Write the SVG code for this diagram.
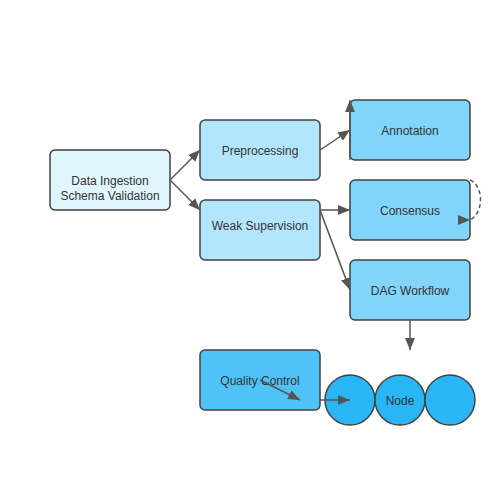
<svg xmlns="http://www.w3.org/2000/svg" width="500" height="500" viewBox="0 0 500 500">
<style>
.box{stroke:#424242;stroke-width:1.5}
.lbl{font-family:"Liberation Sans",Arial,sans-serif;font-size:12px;fill:#333;text-anchor:middle}
.e{fill:none;stroke:#555;stroke-width:1.5}
.d{stroke-dasharray:4,3}
</style>
<defs>
<marker id="ah" viewBox="0 0 12 10" markerWidth="12" markerHeight="10" refX="12" refY="5" orient="auto" markerUnits="userSpaceOnUse"><path d="M0,0 L12,5 L0,10 z" fill="#555"/></marker>
<marker id="ah0" viewBox="0 0 12 10" markerWidth="12" markerHeight="10" refX="12" refY="5" orient="0" markerUnits="userSpaceOnUse"><path d="M0,0 L12,5 L0,10 z" fill="#555"/></marker>
</defs>
<rect width="500" height="500" fill="#fff"/>
<g id="n-ingest"><rect class="box" x="50" y="150" width="120" height="60" rx="5" fill="#e1f5fe"/><text class="lbl" x="110" y="185">Data Ingestion</text><text class="lbl" x="110" y="200">Schema Validation</text></g>
<g id="n-pre"><rect class="box" x="200" y="120" width="120" height="60" rx="5" fill="#b3e5fc"/><text class="lbl" x="260" y="155">Preprocessing</text></g>
<g id="n-weak"><rect class="box" x="200" y="200" width="120" height="60" rx="5" fill="#b3e5fc"/><text class="lbl" x="260" y="230">Weak Supervision</text></g>
<g id="n-ann"><rect class="box" x="350" y="100" width="120" height="60" rx="5" fill="#81d4fa"/><text class="lbl" x="410" y="135">Annotation</text></g>
<g id="n-cons"><rect class="box" x="350" y="180" width="120" height="60" rx="5" fill="#81d4fa"/><text class="lbl" x="410" y="215">Consensus</text></g>
<g id="n-dag"><rect class="box" x="350" y="260" width="120" height="60" rx="5" fill="#81d4fa"/><text class="lbl" x="410" y="295">DAG Workflow</text></g>
<g id="n-qc"><rect class="box" x="200" y="350" width="120" height="60" rx="5" fill="#4fc3f7"/><text class="lbl" x="260" y="385">Quality Control</text></g>
<g id="n-node"><circle class="box" cx="350" cy="400" r="25" fill="#29b6f6"/><circle class="box" cx="400" cy="400" r="25" fill="#29b6f6"/><circle class="box" cx="450" cy="400" r="25" fill="#29b6f6"/><text class="lbl" x="400" y="405">Node</text></g>
<g id="edges">
<path class="e" d="M170,180 L200,150" marker-end="url(#ah)"/>
<path class="e" d="M170,180 L200,210" marker-end="url(#ah)"/>
<path class="e" d="M320,150 L350,130" marker-end="url(#ah)"/>
<path class="e" d="M350,160 L350,100" marker-end="url(#ah)"/>
<path class="e" d="M320,210 L350,210" marker-end="url(#ah)"/>
<path class="e" d="M320,210 L350,290" marker-end="url(#ah)"/>
<path class="e d" d="M470,180 C484,186 484,213 470,220" marker-end="url(#ah0)"/>
<path class="e" d="M410,320 L410,350" marker-end="url(#ah)"/>
<path class="e" d="M260,380 L300,400" marker-end="url(#ah)"/>
<path class="e" d="M320,400 L350,400" marker-end="url(#ah)"/>
</g>
</svg>
